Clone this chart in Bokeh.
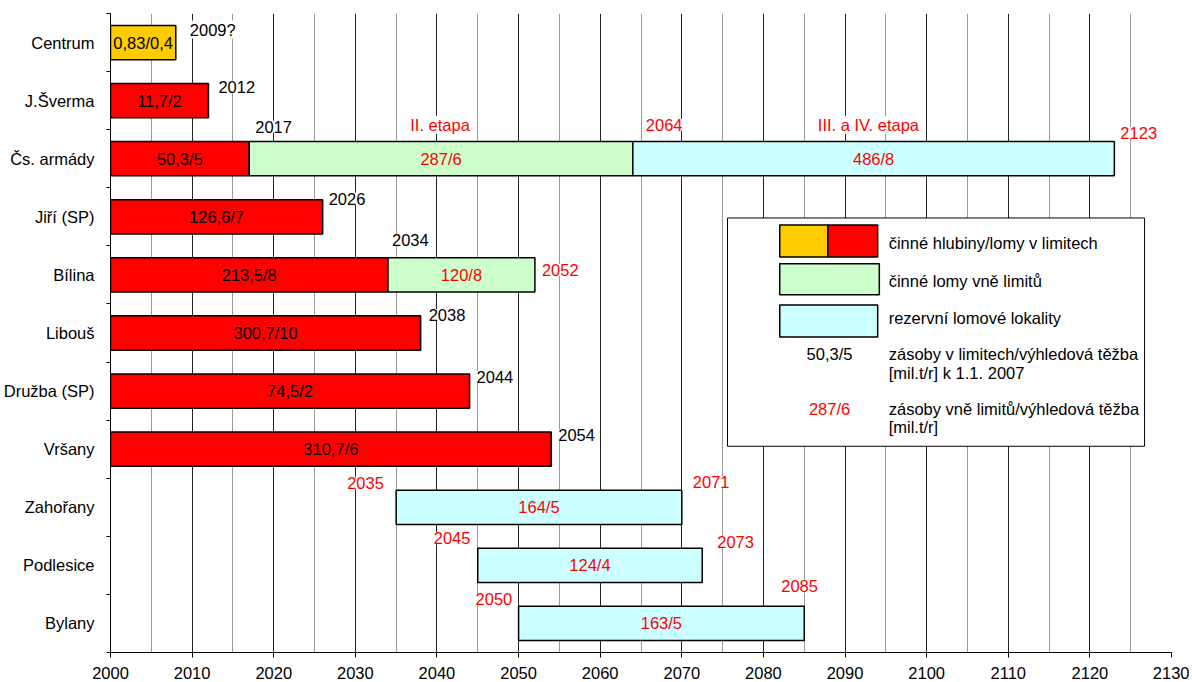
from bokeh.plotting import figure
from bokeh.models import Range1d, FixedTicker, ColumnDataSource, LabelSet
from bokeh.embed import file_html
from bokeh.resources import INLINE
from bokeh.core.properties import value

FONT = "Liberation Sans"
FS = "16.5px"

# ---------------- data ----------------
categories = ["Centrum", "J.Šverma", "Čs. armády", "Jiří (SP)", "Bílina", "Libouš",
              "Družba (SP)", "Vršany", "Zahořany", "Podlesice", "Bylany"]

seg_category = ["Centrum", "J.Šverma", "Čs. armády", "Čs. armády", "Čs. armády", "Jiří (SP)",
                "Bílina", "Bílina", "Libouš", "Družba (SP)", "Vršany", "Zahořany", "Podlesice", "Bylany"]
seg_start = [2000, 2000, 2000, 2017, 2064, 2000, 2000, 2034, 2000, 2000, 2000, 2035, 2045, 2050]
seg_end = [2008, 2012, 2017, 2064, 2123, 2026, 2034, 2052, 2038, 2044, 2054, 2070, 2072.5, 2085]
seg_kind = ["hlubina", "limit", "limit", "mimo", "rezerva", "limit", "limit", "mimo",
            "limit", "limit", "limit", "rezerva", "rezerva", "rezerva"]
seg_label = ["0,83/0,4", "11,7/2", "50,3/5", "287/6", "486/8", "126,6/7", "213,5/8", "120/8",
             "300,7/10", "74,5/2", "310,7/6", "164/5", "124/4", "163/5"]

ann_text = ["2009?", "2012", "2017", "II. etapa", "2064", "III. a IV. etapa", "2123", "2026",
            "2034", "2052", "2038", "2044", "2054", "2035", "2071", "2045", "2073", "2050", "2085"]
ann_category = ["Centrum", "J.Šverma", "Čs. armády", "Čs. armády", "Čs. armády", "Čs. armády",
                "Čs. armády", "Jiří (SP)", "Bílina", "Bílina", "Libouš", "Družba (SP)", "Vršany",
                "Zahořany", "Zahořany", "Podlesice", "Podlesice", "Bylany", "Bylany"]
ann_anchor = [2008, 2012, 2017, 2017, 2064, 2064, 2123, 2026, 2034, 2052, 2038, 2044, 2054,
              2035, 2070, 2045, 2072.5, 2050, 2085]
ann_red = [False, False, False, True, True, True, True, False, False, True, False, False, False,
           True, True, True, True, True, True]

legend_texts = ["činné hlubiny/lomy v limitech", "činné lomy vně limitů", "rezervní lomové lokality",
                "zásoby v limitech/výhledová těžba", "[mil.t/r] k 1.1. 2007",
                "zásoby vně limitů/výhledová těžba", "[mil.t/r]"]
legend_samples = ["50,3/5", "287/6"]

x_ticks = list(range(2000, 2131, 10))

# ---------------- layout / style ----------------
kind_fill = {"hlubina": "#FFCC00", "limit": "#FF0000", "mimo": "#CCFFCC", "rezerva": "#CCFFFF"}
kind_text = {"hlubina": "black", "limit": "black", "mimo": "#FF0000", "rezerva": "#FF0000"}
ann_dx = [14, 10, 6, 161, 13, 185, 6, 6, 4, 7, 8, 7, 7, -49, 11, -44, 15, -43, -23]
ann_dy = [13, 14, 32, 34, 34, 34, 26, 18, 35, 5, 18, 14, 14, 24, 25, 27, 23, 24, 37]

row = {c: i + 0.5 for i, c in enumerate(categories)}

p = figure(frame_width=1061, frame_height=639, output_backend="svg", toolbar_location=None,
           x_range=Range1d(2000, 2130), y_range=Range1d(len(categories), 0),
           min_border_left=102, min_border_right=18, min_border_top=13, min_border_bottom=0)
p.outline_line_color = None
p.background_fill_color = "white"

# grid
p.xgrid.ticker = FixedTicker(ticks=x_ticks, minor_ticks=[t + 5 for t in x_ticks[:-1]])
p.xgrid.grid_line_color = "#222222"
p.xgrid.grid_line_width = 1
p.xgrid.minor_grid_line_color = "#999999"
p.xgrid.minor_grid_line_width = 1
p.ygrid.visible = False

# axes
p.xaxis.ticker = FixedTicker(ticks=x_ticks)
p.xaxis.major_tick_out = 5
p.xaxis.major_tick_in = 0
p.xaxis.minor_tick_out = 0
p.xaxis.major_label_standoff = 9
p.yaxis.ticker = FixedTicker(ticks=[row[c] for c in categories],
                             minor_ticks=list(range(len(categories) + 1)))
p.yaxis.major_label_overrides = {row[c]: c for c in categories}
p.yaxis.major_tick_out = 0
p.yaxis.major_tick_in = 0
p.yaxis.minor_tick_out = 4
p.yaxis.minor_tick_in = 0
p.yaxis.major_label_standoff = 12
for ax in (p.xaxis, p.yaxis):
    ax.axis_line_color = "black"
    ax.major_tick_line_color = "black"
    ax.minor_tick_line_color = "black"
    ax.major_label_text_font = FONT
    ax.major_label_text_font_size = FS
    ax.major_label_text_color = "black"

# bars
src = ColumnDataSource(dict(
    y=[row[c] for c in seg_category],
    left=seg_start, right=seg_end,
    fill=[kind_fill[k] for k in seg_kind],
    tc=[kind_text[k] for k in seg_kind],
    xm=[(a + b) / 2 for a, b in zip(seg_start, seg_end)],
    label=seg_label,
))
p.hbar(y="y", left="left", right="right", height=0.59, fill_color="fill",
       line_color="black", line_width=1.5, source=src)
p.text(x="xm", y="y", text="label", text_color="tc", text_align="center",
       text_baseline="middle", text_font=value(FONT), text_font_size=FS, source=src)

# year / stage annotations
asrc = ColumnDataSource(dict(
    x=ann_anchor, y=[row[c] for c in ann_category], text=ann_text,
    dx=ann_dx, dy=ann_dy, color=["#FF0000" if r else "black" for r in ann_red],
))
p.add_layout(LabelSet(x="x", y="y", text="text", x_offset="dx", y_offset="dy",
                      text_color="color", text_align="left", text_baseline="middle",
                      text_font=value(FONT), text_font_size=FS,
                      background_fill_color="white", source=asrc))

# legend (drawn manually)
p.quad(left=[2075.6], right=[2126.7], top=[3.52], bottom=[7.45],
       fill_color="white", line_color="black", line_width=1)
p.quad(left=[2082.0, 2087.9, 2082.0, 2082.0], right=[2087.9, 2094.0, 2094.2, 2094.0],
       top=[3.64, 3.64, 4.31, 5.02], bottom=[4.19, 4.19, 4.84, 5.57],
       fill_color=[kind_fill["hlubina"], kind_fill["limit"], kind_fill["mimo"], kind_fill["rezerva"]],
       line_color="black", line_width=1.5)
p.text(x=[2095.35] * len(legend_texts), y=[3.95, 4.60, 5.24, 5.86, 6.19, 6.81, 7.12],
       text=legend_texts, text_color="black", text_align="left", text_baseline="middle",
       text_font=value(FONT), text_font_size=FS)
p.text(x=[2088.1, 2088.1], y=[5.86, 6.81], text=legend_samples,
       text_color=["black", "#FF0000"], text_align="center", text_baseline="middle",
       text_font=value(FONT), text_font_size=FS)

open("out.html", "w").write(file_html(p, INLINE))
